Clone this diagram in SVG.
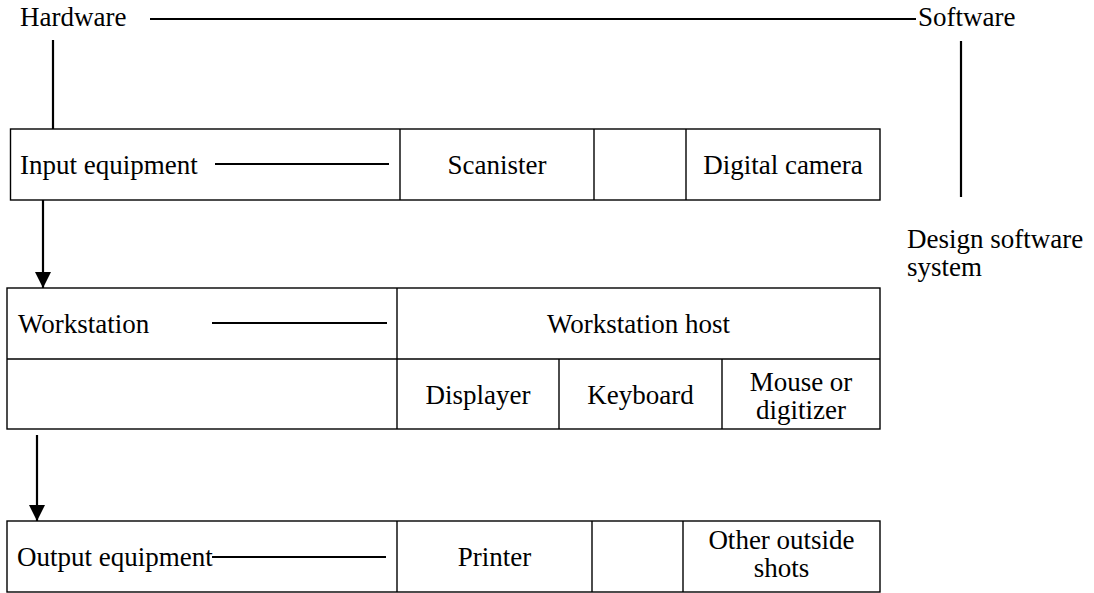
<svg xmlns="http://www.w3.org/2000/svg" width="1094" height="593" viewBox="0 0 1094 593">
<style>
text{font-family:"Liberation Serif","Times New Roman",serif;font-size:27px;fill:#000}
.c{text-anchor:middle}
.box{fill:#fff;stroke:#000;stroke-width:1.4}
.ln{stroke:#000;stroke-width:1.4;fill:none}
.con{stroke:#000;stroke-width:2.2;fill:none}
</style>
<defs>
<marker id="ah" markerUnits="userSpaceOnUse" markerWidth="16" markerHeight="16" viewBox="0 0 16 16" refX="16" refY="8" orient="auto">
<path d="M0,0 L16,8 L0,16 Z" fill="#000"/>
</marker>
</defs>
<rect width="1094" height="593" fill="#fff"/>

<g id="hardware"><text x="20" y="26">Hardware</text></g>
<g id="software"><text x="918" y="26">Software</text></g>
<g id="design-software"><text x="907" y="248">Design software</text><text x="907" y="276">system</text></g>

<g id="input">
<rect class="box" x="10.5" y="129" width="869.5" height="71"/>
<line class="ln" x1="400" y1="129" x2="400" y2="200"/>
<line class="ln" x1="594" y1="129" x2="594" y2="200"/>
<line class="ln" x1="686" y1="129" x2="686" y2="200"/>
<text x="20" y="174">Input equipment</text>
<text class="c" x="497" y="174">Scanister</text>
<text class="c" x="783" y="174">Digital camera</text>
</g>

<g id="workstation">
<rect class="box" x="7" y="288" width="873" height="141"/>
<line class="ln" x1="7" y1="359" x2="880" y2="359"/>
<line class="ln" x1="397" y1="288" x2="397" y2="429"/>
<line class="ln" x1="559" y1="359" x2="559" y2="429"/>
<line class="ln" x1="722" y1="359" x2="722" y2="429"/>
<text x="18" y="333">Workstation</text>
<text class="c" x="638.5" y="333">Workstation host</text>
<text class="c" x="478" y="404">Displayer</text>
<text class="c" x="640.5" y="404">Keyboard</text>
<text class="c" x="801" y="391">Mouse or</text>
<text class="c" x="801" y="419">digitizer</text>
</g>

<g id="output">
<rect class="box" x="7" y="521" width="873" height="71"/>
<line class="ln" x1="397" y1="521" x2="397" y2="592"/>
<line class="ln" x1="592" y1="521" x2="592" y2="592"/>
<line class="ln" x1="683" y1="521" x2="683" y2="592"/>
<text x="17" y="566">Output equipment</text>
<text class="c" x="494.5" y="566">Printer</text>
<text class="c" x="781.5" y="549">Other outside</text>
<text class="c" x="781.5" y="577">shots</text>
</g>

<g id="connectors">
<line class="con" x1="150" y1="19" x2="916" y2="19"/>
<line class="con" x1="53" y1="40" x2="53" y2="129"/>
<line class="con" x1="961" y1="41" x2="961" y2="197"/>
<line class="con" x1="215" y1="164" x2="389" y2="164"/>
<line class="con" x1="212" y1="323" x2="387" y2="323"/>
<line class="con" x1="212" y1="557" x2="386" y2="557"/>
<line class="con" x1="43" y1="200" x2="43" y2="288" marker-end="url(#ah)"/>
<line class="con" x1="37" y1="435" x2="37" y2="521" marker-end="url(#ah)"/>
</g>
</svg>
